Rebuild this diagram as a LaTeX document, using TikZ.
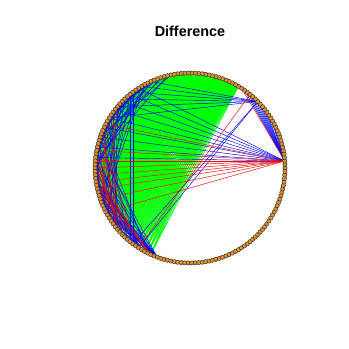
\documentclass[tikz,border=0pt]{standalone}
\usepackage{fontspec}
\setmainfont{Liberation Sans}
\definecolor{vfill}{RGB}{225,145,30}
\definecolor{vline}{RGB}{45,45,75}
\tikzset{
  ge/.style={draw={rgb,255:red,0;green,255;blue,0}, line width=0.45pt},
  be/.style={draw={rgb,255:red,0;green,0;blue,255}, line width=0.45pt},
  re/.style={draw={rgb,255:red,255;green,0;blue,0}, line width=0.45pt},
  vert/.style={circle, inner sep=0pt, minimum size=4.3pt, fill=vfill, draw=vline, line width=0.45pt},
}
\begin{document}
\begin{tikzpicture}[x=1pt,y=1pt]
\useasboundingbox (0,0) rectangle (349,349);
\fill[white] (0,0) rectangle (349,349);
\node[font=\fontsize{14.4}{17}\selectfont\bfseries] (title) at (190,318) {Difference};
\foreach \i in {0,...,169} {
  \coordinate (p\i) at ({190+95*cos(\i*2.117647)},{181+95*sin(\i*2.117647)});
}
\pgfmathsetseed{4711}
% blue chords along the upper-left arc (under the green)
\foreach \s in {45,...,85} {
  \pgfmathrandominteger{\d}{20}{40}
  \pgfmathtruncatemacro{\t}{min(118,\s+\d)}
  \draw[be] (p\s) -- (p\t);
}
% green fan from the top-right vertices
\foreach \s in {28,...,34} {
  \foreach \t in {68,...,116} {
    \draw[ge] (p\s) -- (p\t);
  }
}
% green family of near-parallel chords (top arc to lower-left arc)
\foreach \S in {112,115,...,145} {
  \pgfmathtruncatemacro{\lo}{max(35,\S-117)}
  \pgfmathtruncatemacro{\hi}{\S/2-3}
  \foreach \s in {\lo,...,\hi} {
    \pgfmathtruncatemacro{\t}{\S-\s}
    \draw[ge] (p\s) -- (p\t);
  }
}
% blue chords along the left and lower-left arc
\foreach \s in {48,...,100} {
  \pgfmathrandominteger{\d}{20}{40}
  \pgfmathtruncatemacro{\t}{min(118,\s+\d)}
  \draw[be] (p\s) -- (p\t);
}
% short blue chords close to the left arc
\foreach \s in {50,...,104} {
  \pgfmathrandominteger{\d}{8}{16}
  \pgfmathtruncatemacro{\t}{min(118,\s+\d)}
  \draw[be] (p\s) -- (p\t);
}
% red chords on the left
\foreach \s in {66,68,...,92} {
  \pgfmathrandominteger{\d}{22}{36}
  \pgfmathtruncatemacro{\t}{min(116,\s+\d)}
  \draw[re] (p\s) -- (p\t);
}
% green band near the lower-left arc
\foreach \s in {94,...,110} {
  \foreach \k in {1,2} {
    \pgfmathrandominteger{\d}{4}{8}
    \pgfmathtruncatemacro{\t}{min(118,\s+\d)}
    \draw[ge] (p\s) -- (p\t);
  }
}
% blue vertical-ish chords
\foreach \s/\t in {60/110,61/109} {
  \draw[be] (p\s) -- (p\t);
}
% blue from vertex 21 (upper right)
\foreach \t in {25,26,27,28,29,30,54,57,60,63,66,70,110,112} {
  \draw[be] (p21) -- (p\t);
}
% blue from vertex 2 (right)
\foreach \t in {12,14,15,17,18,19,20,21,22,23,24,25,26,58,61,64,67,70,73,76,79,82} {
  \draw[be] (p2) -- (p\t);
}
% red from vertex 2
\foreach \t in {27,72,80,83,85,87,89,91,94,98} {
  \draw[re] (p2) -- (p\t);
}
\draw[re] (p24) -- (p112);
% vertices
\foreach \i in {0,...,169} {
  \node[vert] (v\i) at (p\i) {};
}
\end{tikzpicture}
\end{document}
